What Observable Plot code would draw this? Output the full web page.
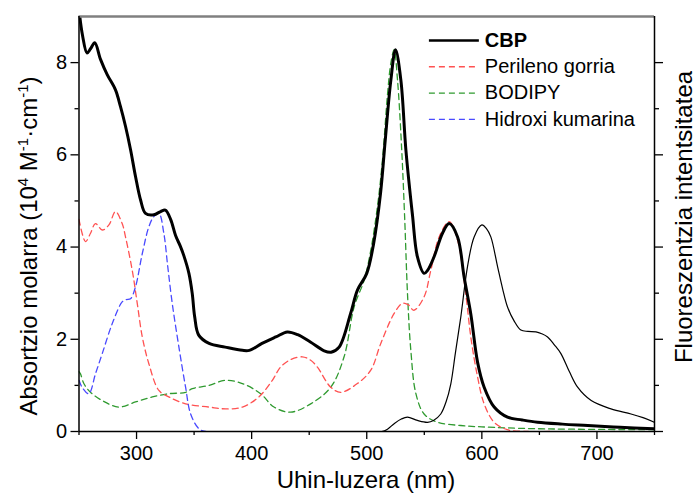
<!DOCTYPE html>
<html><head><meta charset="utf-8">
<script src="https://cdn.jsdelivr.net/npm/d3@7"></script>
<script src="https://cdn.jsdelivr.net/npm/@observablehq/plot@0.6"></script>
<style>body{margin:0;background:#fff;}</style>
</head><body><div id="chart"></div>
<script>
// ---- Data ----
const cbpAbsX = [250,253,257,260,263.7,268.7,274.5,281.7,286,290.4,294.8,299.1,303.5,307.8,315,320.9,325,329.6,333.9,338,341,345.5,348.4,350.5,354,363,377,392,398,409,421,431,440,451,463,469,476,486,492,500,506,512,516,521,525,529.6,534,539.7,544,549.8,553,558.5,565.8,571.6,578.9,584.6,590.4,596.3,602,610.7,622.3,635,648.4,670,692,720,750];
const cbpAbsY = [9.15,8.6,8.21,8.3,8.43,8.07,7.74,7.41,7.05,6.62,6.11,5.53,5.02,4.73,4.70,4.77,4.80,4.60,4.25,4.02,3.82,3.43,2.99,2.49,2.09,1.91,1.83,1.76,1.76,1.91,2.05,2.16,2.1,1.94,1.75,1.72,1.83,2.56,3.07,3.43,4.08,5.17,6.3,7.63,8.28,7.63,6.11,4.70,3.79,3.43,3.5,3.79,4.30,4.51,4.22,3.35,2.55,1.50,0.96,0.53,0.31,0.25,0.20,0.16,0.13,0.09,0.06];

const cbpFluoX = [500,513,518,523.8,530,535.4,544,552.8,558,564.3,569,573,577,581.7,587.5,593.3,600,604,607.8,613.7,618,622.3,628,633.9,640,647,652,657.1,663,668.7,676,683.2,695,712.2,729.6,740,750];
const cbpFluoY = [0,0,0.05,0.17,0.27,0.31,0.24,0.20,0.24,0.38,0.65,1.03,1.7,2.48,3.57,4.22,4.48,4.40,4.22,3.57,3.1,2.70,2.4,2.20,2.17,2.16,2.12,2.05,1.88,1.69,1.3,0.96,0.67,0.49,0.38,0.30,0.20];

const peryX = [250,255.7,260,264.3,270.2,276,281.7,287.5,290.4,296.3,300.6,305,310.7,319.4,328,342.6,363,377.4,392,406.3,418,425.2,434,444,451,457,468.7,477.4,491.9,503.5,512.2,523.8,531,536,541,549.8,555.7,562.9,571.6,578.9,586,590.4,596.3,602,610.7,622,640,660];
const peryY = [4.6,4.12,4.3,4.51,4.37,4.48,4.77,4.51,4.22,3.49,2.78,2.05,1.47,0.89,0.75,0.60,0.53,0.49,0.53,0.75,1.11,1.40,1.56,1.62,1.55,1.40,0.96,0.85,1.04,1.33,1.91,2.56,2.78,2.75,2.63,2.92,3.50,4.22,4.55,4.15,2.99,2.05,1.18,0.60,0.20,0.04,0,0];

const bodipyX = [250,251.3,254.2,260,270.2,284.6,299.1,313.7,328.1,342.6,348.4,362.9,377.4,391.9,407.8,419.4,433.9,451.3,468.7,480.3,489,497.7,503.5,509.3,513.7,518,521,523.8,526.7,530.3,533,535.4,538.3,542.7,549.8,561.5,581.7,600,648,750];
const bodipyY = [1.3,1.25,1.04,0.85,0.67,0.53,0.64,0.75,0.82,0.85,0.93,1.0,1.11,1.04,0.82,0.53,0.42,0.60,0.96,1.62,2.70,3.28,3.93,4.88,5.9,7.3,8.0,8.28,7.63,6.15,4.6,2.99,1.76,0.82,0.38,0.20,0.13,0.10,0.06,0.04];

const kumX = [250,252.7,258.5,264.3,270.2,278.9,287.5,291,294.8,299.1,305,310.7,315,319.4,323.7,327,331,336.8,342.6,347,354.2,360,450];
const kumY = [1.11,0.96,0.82,1.25,1.69,2.34,2.81,2.86,2.88,3.14,3.86,4.44,4.66,4.73,4.3,3.6,2.78,1.83,0.96,0.38,0.06,0,0];

const seriesNames = ["CBP","Perileno gorria","BODIPY","Hidroxi kumarina"];
const xMajorTicks = [300,400,500,600,700];
const xMinorTicks = [250,350,450,550,650,750];
const yMajorTicks = [0,2,4,6,8];
const yMinorTicks = [1,3,5,7];
const xTitle = "Uhin-luzera (nm)";
const yTitleRight = "Fluoreszentzia intentsitatea";

// ---- Styles ----
const FONT = "'Liberation Sans', Arial, Helvetica, sans-serif";
const RED = "#ff5252", GREEN = "#2f9a2f", BLUE = "#4a4aff";
const DASH = "6,4";
const rows = (xs, ys) => xs.map((x, i) => ({x, y: ys[i]}));

// legend layout (in data units so it goes through the scales)
const legX1 = 554, legX2 = 597.4, legTextX = 602.6;
const legY0 = 8.48, legStep = 0.57;
const legendRows = seriesNames.map((name, i) => ({name, y: legY0 - i * legStep}));
const legendColors = ["#000", RED, GREEN, BLUE];

const lineOpts = {x: "x", y: "y", curve: "catmull-rom", clip: true};

const chart = Plot.plot({
  width: 697, height: 493,
  marginLeft: 78.5, marginRight: 43, marginTop: 16, marginBottom: 62,
  style: {fontFamily: FONT, fontSize: "20px", color: "#000", background: "#fff", overflow: "visible"},
  x: {domain: [250, 750], label: null},
  y: {domain: [0, 9], label: null},
  marks: [
    Plot.line(rows(bodipyX, bodipyY), {...lineOpts, stroke: GREEN, strokeWidth: 1.3, strokeDasharray: DASH}),
    Plot.line(rows(peryX, peryY), {...lineOpts, stroke: RED, strokeWidth: 1.3, strokeDasharray: DASH}),
    Plot.line(rows(kumX, kumY), {...lineOpts, stroke: BLUE, strokeWidth: 1.3, strokeDasharray: DASH}),
    Plot.line(rows(cbpFluoX, cbpFluoY), {...lineOpts, stroke: "#000", strokeWidth: 1.2}),
    Plot.line(rows(cbpAbsX, cbpAbsY), {...lineOpts, stroke: "#000", strokeWidth: 3}),
    // frame
    Plot.ruleY([9], {stroke: "#808080", strokeWidth: 2.5}),
    Plot.ruleX([250], {stroke: "#000", strokeWidth: 1.5}),
    Plot.ruleX([750], {stroke: "#000", strokeWidth: 1.5}),
    Plot.ruleY([0], {stroke: "#000", strokeWidth: 1.5}),
    // axes
    Plot.axisX({ticks: xMajorTicks, tickSize: 8, tickPadding: 6, strokeWidth: 1.3, fontSize: 20, fill: "#000"}),
    Plot.axisX({ticks: xMinorTicks, tickSize: 4, strokeWidth: 1.3, tickFormat: () => ""}),
    Plot.axisY({ticks: yMajorTicks, tickSize: 8, tickPadding: 4, strokeWidth: 1.3, fontSize: 20, fill: "#000"}),
    Plot.axisY({ticks: yMinorTicks, tickSize: 4, strokeWidth: 1.3, tickFormat: () => ""}),
    Plot.axisY({anchor: "right", ticks: yMajorTicks, tickSize: 8, strokeWidth: 1.3, tickFormat: () => ""}),
    Plot.axisY({anchor: "right", ticks: yMinorTicks, tickSize: 4, strokeWidth: 1.3, tickFormat: () => ""}),
    // legend
    Plot.link(legendRows.slice(0, 1), {x1: () => legX1, x2: () => legX2, y1: "y", y2: "y", stroke: "#000", strokeWidth: 2.5}),
    ...legendRows.slice(1).map((r, i) =>
      Plot.link([r], {x1: () => legX1, x2: () => legX2, y1: "y", y2: "y", stroke: legendColors[i + 1], strokeWidth: 1.3, strokeDasharray: DASH})),
    Plot.text(legendRows.slice(0, 1), {x: () => legTextX, y: "y", text: "name", textAnchor: "start", fontWeight: "bold", fontSize: 20, fill: "#000"}),
    Plot.text(legendRows.slice(1), {x: () => legTextX, y: "y", text: "name", textAnchor: "start", fontSize: 20, fill: "#000"})
  ]
});
document.getElementById("chart").appendChild(chart);

// axis titles
const svg = d3.select(chart);
svg.append("text").attr("x", 366).attr("y", 488).attr("text-anchor", "middle")
  .attr("font-family", FONT).attr("font-size", 24).attr("fill", "#000").text(xTitle);

const yt = svg.append("text").attr("transform", "translate(37,246) rotate(-90)").attr("text-anchor", "middle")
  .attr("font-family", FONT).attr("font-size", 24).attr("fill", "#000");
yt.append("tspan").text("Absortzio molarra (10");
yt.append("tspan").attr("dy", -9).attr("font-size", 15).text("4");
yt.append("tspan").attr("dy", 9).text(" M");
yt.append("tspan").attr("dy", -9).attr("font-size", 15).text("-1");
yt.append("tspan").attr("dy", 9).text("·cm");
yt.append("tspan").attr("dy", -9).attr("font-size", 15).text("-1");
yt.append("tspan").attr("dy", 9).text(")");

svg.append("text").attr("transform", "translate(692,217) rotate(-90)").attr("text-anchor", "middle")
  .attr("font-family", FONT).attr("font-size", 24).attr("fill", "#000").text(yTitleRight);
</script>
</body></html>
